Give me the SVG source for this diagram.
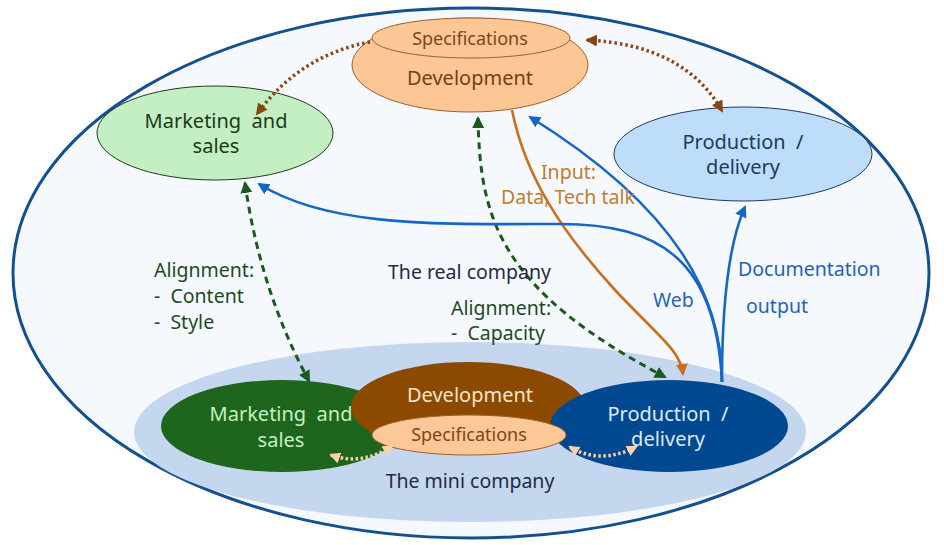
<svg xmlns="http://www.w3.org/2000/svg" width="944" height="545" viewBox="0 0 944 545">
<style>
text{font-family:"Noto Sans","Open Sans","DejaVu Sans",sans-serif;}
.c{text-anchor:middle}
.lbl{font-size:19.5px}
.grn{fill:#1E4A1E}
.navy{fill:#1F2A44}
.blu{fill:#1F64B8}
.org{fill:#C27C2E}
.brownDot{fill:none;stroke:#8B4513;stroke-width:3.5;stroke-dasharray:2.5 3}
.greenDash{fill:none;stroke:#1B5A1B;stroke-width:3;stroke-dasharray:7 5}
.blueLine{fill:none;stroke:#1467C8;stroke-width:2.6}
.orangeLine{fill:none;stroke:#C8701E;stroke-width:2.6}
.peachDot{fill:none;stroke:#FBD2A6;stroke-width:3.5;stroke-dasharray:2.5 2.5}
</style>
<defs>
<marker id="mBrown" markerWidth="14" markerHeight="14" refX="10" refY="6" orient="auto-start-reverse" markerUnits="userSpaceOnUse"><path d="M0,0 L12,6 L0,12 Z" fill="#8B4513"/></marker>
<marker id="mGreen" markerWidth="14" markerHeight="14" refX="10" refY="6" orient="auto-start-reverse" markerUnits="userSpaceOnUse"><path d="M0,0 L12,6 L0,12 Z" fill="#1B5A1B"/></marker>
<marker id="mBlue" markerWidth="14" markerHeight="14" refX="10" refY="6" orient="auto-start-reverse" markerUnits="userSpaceOnUse"><path d="M0,0 L12,6 L0,12 Z" fill="#1467C8"/></marker>
<marker id="mOrange" markerWidth="14" markerHeight="14" refX="10" refY="6" orient="auto-start-reverse" markerUnits="userSpaceOnUse"><path d="M0,0 L12,6 L0,12 Z" fill="#C8701E"/></marker>
<marker id="mPeach" markerWidth="14" markerHeight="14" refX="9" refY="5.5" orient="auto-start-reverse" markerUnits="userSpaceOnUse"><path d="M0,0 L11,5.5 L0,11 Z" fill="#FBD2A6"/></marker>
</defs>

<g id="real-company">
<ellipse cx="471" cy="273" rx="458" ry="265" fill="#F5F9FE" stroke="#12508F" stroke-width="3"/>
</g>
<g id="mini-company">
<ellipse cx="470" cy="432" rx="336" ry="90" fill="#C5D7EE"/>
</g>

<g id="dev-top">
<ellipse cx="470" cy="65" rx="118" ry="47" fill="#FCC794" stroke="#A0602A" stroke-width="1"/>
<ellipse cx="471" cy="38" rx="99" ry="20" fill="#FCC794" stroke="#A0602A" stroke-width="1"/>
<text x="470" y="45" class="c" font-size="18" fill="#7F4515">Specifications</text>
<text x="470" y="85" class="c" font-size="20" fill="#7A3E0C">Development</text>
</g>

<g id="marketing-top">
<ellipse cx="215" cy="133" rx="118" ry="47" fill="#C3EFC3" stroke="#1E3A1E" stroke-width="1"/>
<text x="216" y="128" class="c" font-size="20" fill="#1B3A1B">Marketing&#160; and</text>
<text x="216" y="153" class="c" font-size="20" fill="#1B3A1B">sales</text>
</g>

<g id="production-top">
<ellipse cx="743" cy="154" rx="129" ry="47" fill="#BDDDFA" stroke="#1F3864" stroke-width="1"/>
<text x="743" y="149" class="c" font-size="20" fill="#1F3864">Production&#160; /</text>
<text x="743" y="174" class="c" font-size="20" fill="#1F3864">delivery</text>
</g>

<g id="marketing-mini">
<ellipse cx="282" cy="426" rx="121" ry="46" fill="#1E661E"/>
<text x="281" y="421" class="c" font-size="20" fill="#C6F0C0">Marketing&#160; and</text>
<text x="281" y="447" class="c" font-size="20" fill="#C6F0C0">sales</text>
</g>

<g id="dev-mini">
<ellipse cx="468" cy="407" rx="117" ry="45" fill="#8C4A00"/>
<text x="470" y="402" class="c" font-size="20" fill="#FCE4C8">Development</text>
</g>

<g id="production-mini">
<ellipse cx="669" cy="426" rx="119" ry="46" fill="#004990"/>
<text x="668" y="421" class="c" font-size="20" fill="#DDEBFF">Production&#160; /</text>
<text x="668" y="446" class="c" font-size="20" fill="#DDEBFF">delivery</text>
</g>

<g id="spec-mini">
<ellipse cx="469" cy="435" rx="97" ry="20" fill="#FCC898" stroke="#A0602A" stroke-width="1"/>
<text x="469" y="441" class="c" font-size="18" fill="#7F4515">Specifications</text>
</g>

<g id="connectors">
<path class="brownDot" d="M370,42 Q300,55 257,114" marker-end="url(#mBrown)"/>
<path class="brownDot" d="M587,40 Q685,45 722,111" marker-start="url(#mBrown)" marker-end="url(#mBrown)"/>
<path class="greenDash" d="M245,183 Q260,290 309,381" marker-start="url(#mGreen)" marker-end="url(#mGreen)"/>
<path class="greenDash" d="M478,118 C480,220 500,290 665,377" marker-start="url(#mGreen)" marker-end="url(#mGreen)"/>
<path class="orangeLine" d="M512,110 C525,175 560,230 615,290 C660,338 680,350 683,374" marker-end="url(#mOrange)"/>
<path class="blueLine" d="M722,382 C722,300 680,210 530,117" marker-end="url(#mBlue)"/>
<path class="blueLine" d="M722,382 C716,260 660,224 560,224 C440,224 330,228 259,184" marker-end="url(#mBlue)"/>
<path class="blueLine" d="M722,382 C722,300 730,240 745,207" marker-end="url(#mBlue)"/>
<path class="peachDot" d="M331,455 Q362,466 392,446" marker-start="url(#mPeach)" marker-end="url(#mPeach)"/>
<path class="peachDot" d="M570,447 Q600,465 636,447" marker-start="url(#mPeach)" marker-end="url(#mPeach)"/>
</g>

<g id="labels">
<text x="541" y="179" class="lbl org">Input:</text>
<text x="501" y="204" class="lbl org">Data, Tech talk</text>
<text x="154" y="277" class="lbl grn">Alignment:</text>
<text x="154" y="303" class="lbl grn">-&#160; Content</text>
<text x="154" y="329" class="lbl grn">-&#160; Style</text>
<text x="388" y="279" class="lbl navy">The real company</text>
<text x="451" y="315" class="lbl grn">Alignment:</text>
<text x="451" y="340" class="lbl grn">-&#160; Capacity</text>
<text x="653" y="307" class="lbl blu">Web</text>
<text x="738" y="276" class="lbl blu">Documentation</text>
<text x="746" y="313" class="lbl blu">output</text>
<text x="470" y="488" class="c lbl navy">The mini company</text>
</g>
</svg>
